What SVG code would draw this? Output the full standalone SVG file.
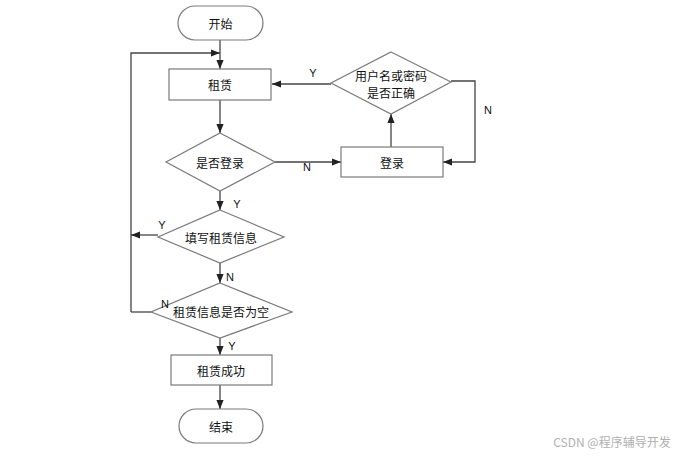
<svg xmlns="http://www.w3.org/2000/svg" width="680" height="456" viewBox="0 0 680 456">
<defs>
<marker id="ah" viewBox="0 0 10 10" refX="10" refY="5" markerWidth="9" markerHeight="9" markerUnits="userSpaceOnUse" orient="auto">
<path d="M0,1 L10,5 L0,9 z" fill="#222"/>
</marker>
</defs>
<style>
.n{fill:#fff;stroke:#7a7a7a;stroke-width:1.2}
.t{font-family:"Noto Sans CJK SC","Liberation Sans",sans-serif;font-size:12px;fill:#111;text-anchor:middle;dominant-baseline:central}
.l{font-family:"Liberation Sans",sans-serif;font-size:11px;fill:#111;text-anchor:middle;dominant-baseline:central}
.c{fill:none;stroke:#444;stroke-width:1.3}
.a{marker-end:url(#ah)}
</style>
<rect width="680" height="456" fill="#fff"/>
<g id="connectors">
<path class="c a" d="M220,40 V69"/>
<path class="c a" d="M131,312 V53 H220"/>
<path class="c a" d="M220,100 V133"/>
<path class="c a" d="M275,162 H341"/>
<path class="c a" d="M391,147 V114"/>
<path class="c a" d="M331,84 H272"/>
<path class="c a" d="M451,81 H475 V162 H443"/>
<path class="c a" d="M220,191 V210"/>
<path class="c a" d="M158,235 H131"/>
<path class="c a" d="M220,263 V283"/>
<path class="c" d="M151,312 H131"/>
<path class="c a" d="M220,338 V355"/>
<path class="c a" d="M220,385 V409"/>
</g>
<g id="start"><rect class="n" x="178" y="6" width="85" height="34" rx="17"/><text class="t" x="220.5" y="23">开始</text></g>
<g id="rent"><rect class="n" x="169" y="69" width="102" height="31"/><text class="t" x="220" y="84.5">租赁</text></g>
<g id="check-cred"><path class="n" d="M391,52 L451,82 L391,114 L331,83 Z"/><text class="t" x="391" y="75">用户名或密码</text><text class="t" x="391" y="92">是否正确</text></g>
<g id="login"><rect class="n" x="341" y="147" width="102" height="30"/><text class="t" x="392" y="162">登录</text></g>
<g id="is-logged"><path class="n" d="M220,133 L275,162 L220,191 L166,162 Z"/><text class="t" x="220" y="162">是否登录</text></g>
<g id="fill-info"><path class="n" d="M220,210 L284,237 L220,263 L158,237 Z"/><text class="t" x="221" y="237">填写租赁信息</text></g>
<g id="is-empty"><path class="n" d="M220,283 L292,312 L220,338 L151,312 Z"/><text class="t" x="221" y="311">租赁信息是否为空</text></g>
<g id="success"><rect class="n" x="171" y="355" width="101" height="30"/><text class="t" x="221" y="370">租赁成功</text></g>
<g id="end"><rect class="n" x="179" y="409" width="84" height="34" rx="17"/><text class="t" x="221" y="426">结束</text></g>
<g id="connector-labels">
<text class="l" x="313" y="73">Y</text>
<text class="l" x="488" y="110">N</text>
<text class="l" x="307" y="167">N</text>
<text class="l" x="237" y="204">Y</text>
<text class="l" x="162" y="225">Y</text>
<text class="l" x="230" y="277">N</text>
<text class="l" x="165" y="304">N</text>
<text class="l" x="232" y="346">Y</text>
</g>
<text x="612" y="441" font-family="'Noto Sans CJK SC','Liberation Sans',sans-serif" font-size="12" fill="#b0b0b0" text-anchor="middle" dominant-baseline="central">CSDN @程序辅导开发</text>
</svg>
